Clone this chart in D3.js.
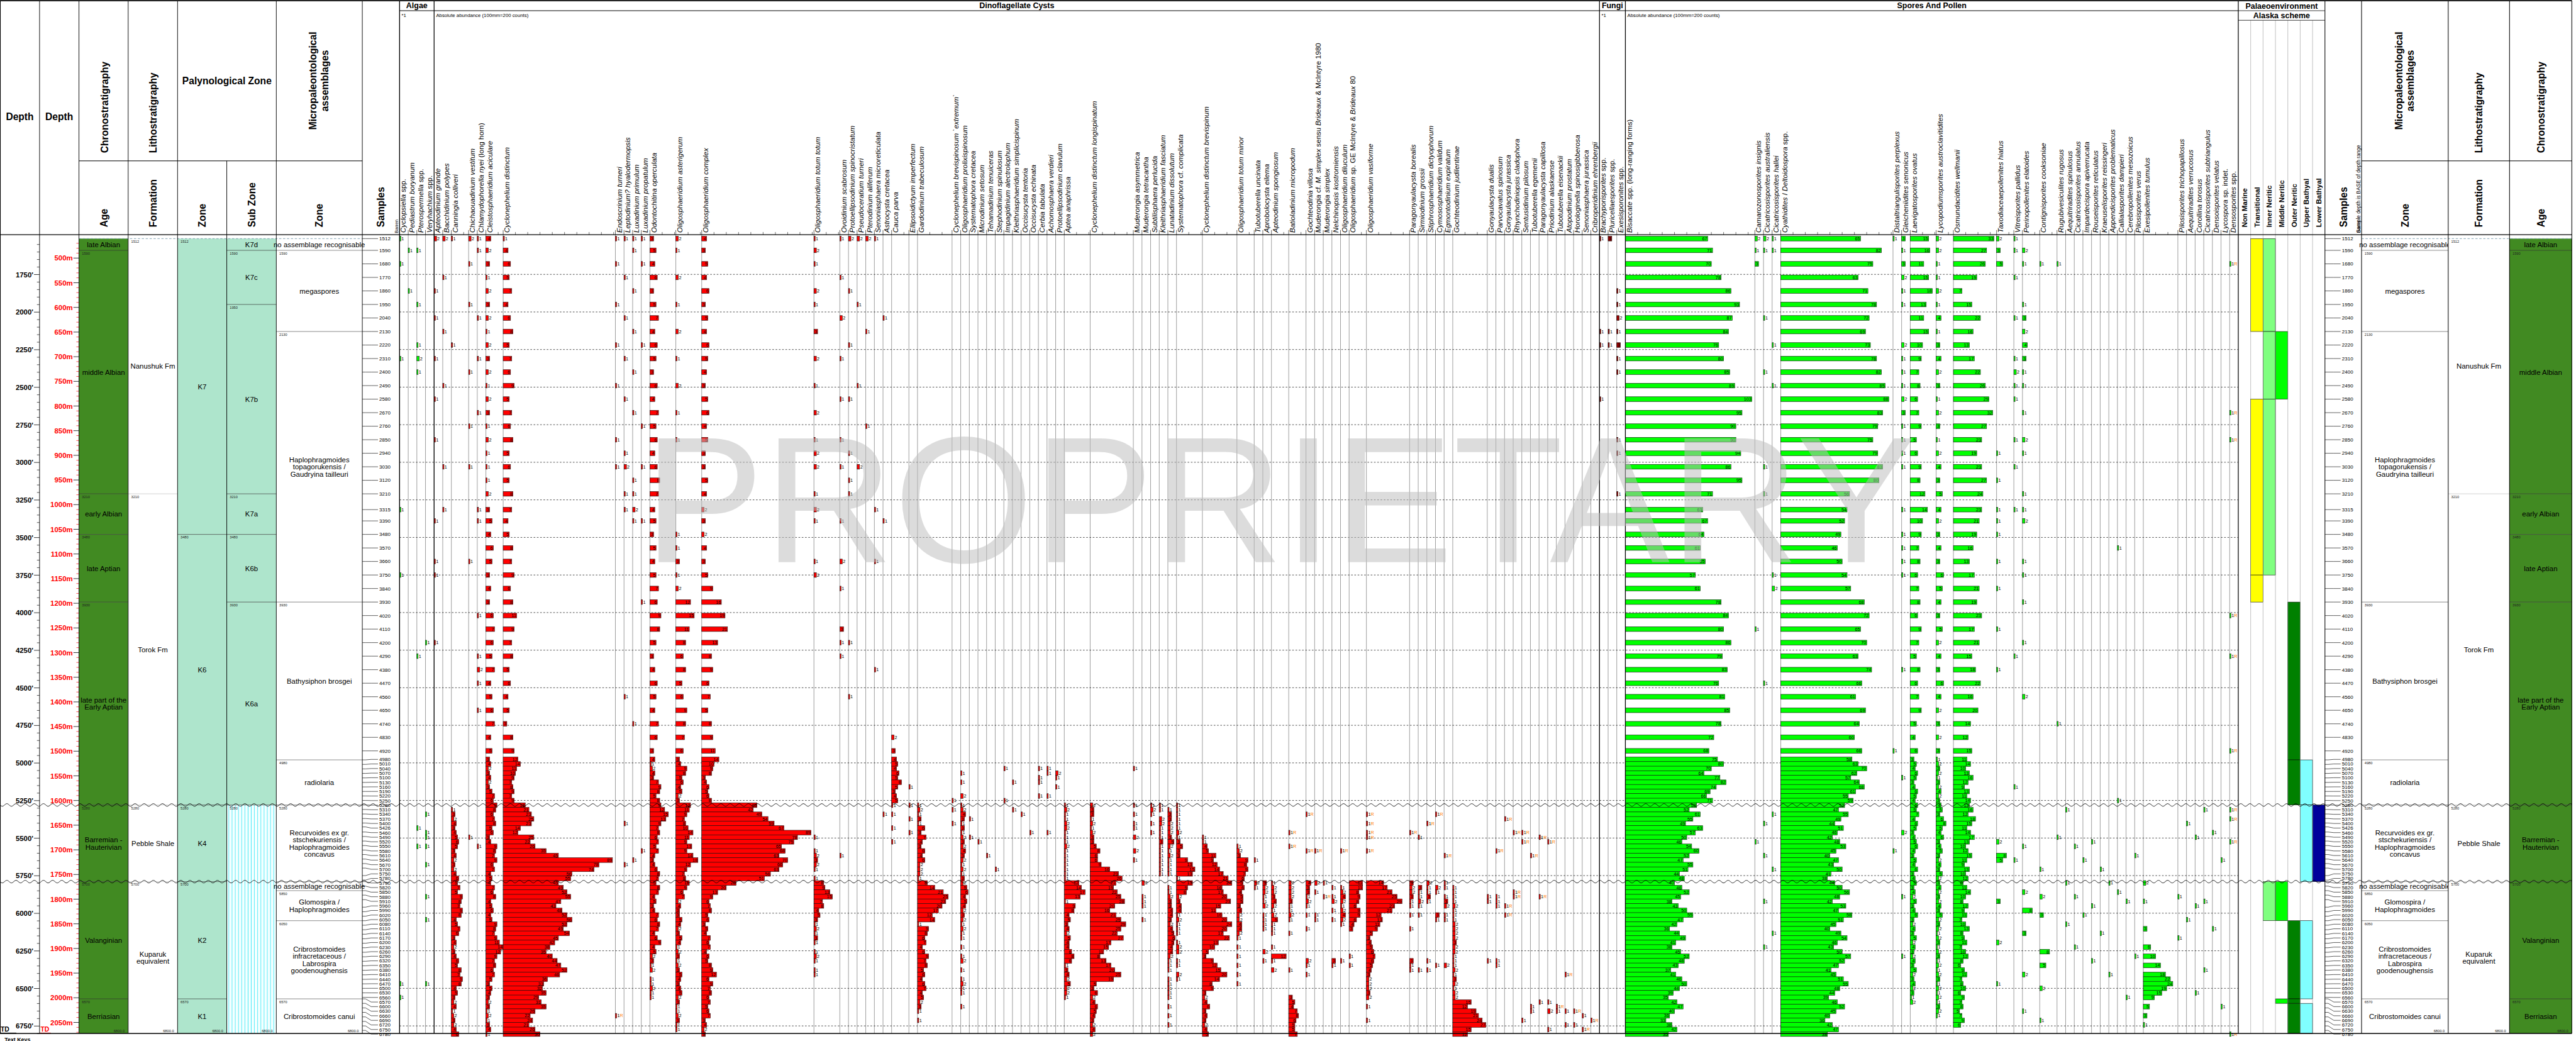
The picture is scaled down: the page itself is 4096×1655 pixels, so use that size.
<!DOCTYPE html>
<html>
<head>
<meta charset="utf-8">
<title>Palynology range chart</title>
<script src="https://cdn.jsdelivr.net/npm/d3@7/dist/d3.min.js"></script>
<style>
  html, body { margin: 0; padding: 0; background: #ffffff; overflow: hidden; }
  svg { display: block; }
  text { font-family: "Liberation Sans", Arial, Helvetica, sans-serif; }
</style>
</head>
<body>
<svg id="chart" width="4096" height="1655" viewBox="0 0 4096 1655"></svg>
<script>
// ===================== DATA =====================
// sample depths (ft); sample depth is the base of the depth range
const sampleDepths = [1512,1590,1680,1770,1860,1950,2040,2130,2220,2310,2400,2490,2580,2670,2760,2850,2940,3030,3120,3210,
  3315,3390,3480,3570,3660,3750,3840,3930,4020,4110,4200,4290,4380,4470,4560,4650,4740,4830,4920,4980,5010,5040,5070,5100,
  5130,5160,5190,5220,5250,5280,5310,5340,5370,5400,5426,5460,5490,5520,5550,5580,5610,5640,5670,5700,5750,5780,5790,5820,
  5850,5880,5910,5960,5990,6020,6050,6080,6110,6140,6170,6200,6230,6260,6290,6320,6350,6380,6410,6440,6470,6500,6530,6560,
  6570,6600,6630,6660,6690,6720,6750,6780];
const totalDepth = 6800;

// depth axis tick labels
const feetMajor = [1750,2000,2250,2500,2750,3000,3250,3500,3750,4000,4250,4500,4750,5000,5250,5500,5750,6000,6250,6500,6750];
const metreMajor = [500,550,600,650,700,750,800,850,900,950,1000,1050,1100,1150,1200,1250,1300,1350,1400,1450,1500,1550,1600,1650,1700,1750,1800,1850,1900,1950,2000,2050];

// unconformities
const unconformities = [5280, 5790];

// chronostratigraphy
const ageNames = ["late Albian","middle Albian","early Albian","late Aptian","late part of the\nEarly Aptian","Barremian -\nHauterivian","Valanginian","Berriasian"];
const ageTops = [1512,1590,3210,3480,3930,5280,5790,6570];
const ageTopLabels = ["1512","1590","3210","3480","3930","5280","5700","6570"];
// lithostratigraphy
const formationNames = ["Nanushuk Fm","Torok Fm","Pebble Shale","Kuparuk\nequivalent"];
const formationTops = [1512,3210,5280,5790];
const formationTopLabels = ["1512","3210","5280","5700"];
// palynological zones
const zoneNames = ["K7","K6","K4","K2","K1"];
const zoneTops = [1512,3480,5280,5790,6570];
const zoneTopLabels = ["1512","3480","5280","5700","6570"];
const subZoneNames = ["K7d","K7c","K7b","K7a","K6b","K6a",""];
const subZoneTops = [1512,1590,1950,3210,3480,3930,5280];
const subZoneTopLabels = ["1512","1590","1950","3210","3480","3930","5280"];
// micropalaeontological assemblages
const microNames = ["no assemblage recognisable","megaspores","Haplophragmoides\ntopagorukensis /\nGaudryina tailleuri","Bathysiphon brosgei","radiolaria",
  "Recurvoides ex gr.\nstschekuriensis /\nHaplophragmoides\nconcavus","no assemblage recognisable","Glomospira /\nHaplophragmoides",
  "Cribrostomoides\ninfracretaceous /\nLabrospira\ngoodenoughensis","Cribrostomoides canui"];
const microTops = [1512,1590,2130,3930,4980,5280,5790,5850,6050,6570];
const microTopLabels = ["1512","1590","2130","3930","4980","5280","5700","5850","6050","6570"];

// palaeoenvironment (Alaska scheme)
const envNames = ["Non Marine","Transitional","Inner Neritic","Middle Neritic","Outer Neritic","Upper Bathyal","Lower Bathyal"];
const envColors = ["#ffffff","#ffff00","#80ff80","#00ff00","#008000","#80ffff","#00009c"];
const envColumn = [1,1,1, 2,2,2,2, 3,3,3, 4,4,4,4,4, 5,5,5,5, 6];
const envTop    = [1512,2580,3750, 1512,2130,2580,5790, 2130,5790,6570, 3930,4980,6050,6570,6600, 4980,5280,6050,6600, 5280];
const envBase   = [2130,3750,3930, 2130,2580,3750,6050, 2580,6050,6600, 4980,5280,6570,6600,6800, 5280,5790,6570,6800, 5790];

// counts per taxon: "depth:count" or "startDepth>c,c,c" for consecutive samples; R = reworked
const algaeTaxa = ["Cyclopsiella spp.","Pediastrum boryanum","Pterospermella spp.","Veryhachium spp."];
const algaeCounts = [
  "1512:1 1680:1 2310:1 3315:1 3750:1 6470:1 6560:1",
  "1590:1 1860:1",
  "1590:1 1950:1 2220:1 2310:2 2400:1 4290:1 5426:1 5550:1",
  "4200:1 5340:1 5460:1 5490:1 5550:1 5670:1 5880:1 6050:1 6470:1"
];

const dinoTaxa = ["Apteodinium grande","Bacchidinium polypes","Canningia colliveri","Chichaouadinium vestitum","Chlamydophorella nyei (long horn)",
  "Cleistosphaeridium aciculare","Cyclonephelium distinctum","Endoscrinium turneri","Leptodinium? hyalodermopsis","Luxadinium primulum",
  "Luxadinium propatulum","Odontochitina operculata","Oligosphaeridium asterigerum","Oligosphaeridium complex","Oligosphaeridium totum totum",
  "Ovoidinium scabrosum","Protoellipsodinium spinocristatum","Pseudoceratium turneri","Pterodinium aliferum","Senoniasphaera microreticulata",
  "Astrocysta cretacea","Cauca parva","Ellipsoidictyum imperfectum","Gardodinium trabeculosum","Cyclonephelium brevispinosum `extremum`",
  "Oligosphaeridium prolixispinosum","Systematophora cretacea","Microdinium setosum","Tehamadinium tenuiceras","Stephodinium spinulosum",
  "Impagidinium alectrolophum","Kleithriasphaeridium simplicispinum","Occisucysta tentoria","Occisucysta echinata","Cerbia tabulata",
  "Achomosphaera verdieri","Protoellipsodinium clavulum","Aptea anaphrissa","Cyclonephelium distinctum longispinatum","Muderongia asymmetrica",
  "Muderongia tetracantha","Subtilisphaera perlucida","Kleithriasphaeridium fasciatum","Lunatadinium dissolutum","Systematophora cf. complicata",
  "Cyclonephelium distinctum brevispinum","Oligosphaeridium totum minor","Tubotuberella uncinata","Aprobolocysta eilema","Apteodinium spongiosum",
  "Batioladinium micropodum","Gochteodinia villosa","Muderongia cf. M. simplex sensu Brideaux & McIntyre 1980","Muderongia simplex","Nelchinopsis kostromiensis",
  "Oligosphaeridium diluculum","Oligosphaeridium sp. GE McIntyre & Brideaux 80","Oligosphaeridium vasiforme","Paragonyaulacysta borealis","Sirmiodinium grossii",
  "Stiphrosphaeridium dictyophorum","Cymososphaeridium validum","Egmontodinium expiratum","Gochteodinium judilentinae","Gonyaulacysta dualis",
  "Parvocavatus spinosum","Gonyaulacysta jurassica","Rhynchodiniopsis cladophora","Sentusidinium pilosum","Tubotuberella egemenii",
  "Paragonyaulacysta capillosa","Priodinium alaskaense","Tubotuberella eisenackii","Atopodinium prostatum","Horologinella spinosigibberosa",
  "Senoniasphaera jurassica","Cribroperidinium ehrenbergii"];
const dinoCounts = [
  "1512:2 1860:1 2040:1 2310:1 2580:1 2850:1 3390:1 3660:1 3750:1 4200:1",
  "1512:2 1770:1 2130:1 2490:1 3030:1 3315:1",
  "1512:1 2220:1 5310>1,3,2,4,3,4,5,6,5,3,4,2,3,2,4,6,5,7,5,9,8,7,9,8,4,5,7,6,3,4,2,3,4,6,5,8,7,9,8,4,5,3,2,4,1,2,3,2,4,6",
  "1512:2 1680:1 1950:1 2400:1 2760:1 3030:1 3660:1 5490:1",
  "1512:1 1590:1 2040:1 2310:1 2670:1 3315:1 3390:1 4020:1 4290:1 4380:2 4470:1 4650:1 5550:1",
  "1512>4,2,3,1,2,3,2,1,2,3,2,1,2,3,1,2,1 3030>1,1,2,3,5,4,6,5,3,4,3,6,7,6,5,7,4,5,6,7,4,5,3,4,2,3,4,2,3,5,7,6,9,8,6,7,8,5,6,3,4,9,8,7,9,6,7,4,5,4,7,6,8,4,5,6,4,5,9,8,7,9,11,14,12,9,7,8,6,7,5,3,5,4,3,2,3,1,2,1,3,4,1",
  "1512>1,4,6,5,7,4,6,8,5,7,6,9,5,7,6,8,5 3030>6,5,8,7,4,5,8,7,9,6,8,11,9,7,8,5,6,4,5,3,8,9,12,14,11,10,9,7,8,9,7,9,18,21,23,25,23,14,12,25,22,26,35,45,89,78,74,56,55,45,49,52,55,47,43,48,52,56,52,49,54,45,42,38,35,40,44,47,52,46,36,33,32,35,29,31,35,26,22,24,21,26,30",
  "1512:1 1680:1 1950:1 2220:1 2490:1 2850:1 3030:1 6660:1R",
  "1512:1 1770:1 2040:1 2310:1 2580:1 2940:1 3030:2 3210:1 3315:1 4560:1 5400:1 5670:1",
  "1512:1 1590:1 1860:1 2130:1 2400:1 2670:1 3120:1 3210:1 3315:2 3390:1 4740:1 5640:1",
  "1512:1 1680:1 2220:1 2760:1 3030:1 3390:1 3930:1 5580:1",
  "1512>3,5,4,6,3,5,7,4,6,5,3,6,4,7,5,6,4 3030>6,8,7,4,5,3,5,4,5,7,6,9,8,5,3,4,6,5,4,7,6,3,4,1,2,4,3,7,9,8,5,8,9,12,15,13,9,7,8,6,7,5,7,4,3,4,6,8,7,5,8,7,4,5,3,4,7,6,8,7,4,6,9,4,5,2,3,1,2,0,1,1,2,1,1",
  "1512>2,1,0,2,0,1,0,2,0,1,0,2,0,1,0,1,0 3480>1,1,3,1,2,12,15,11,8,6,8,5,6,9,8,7,6,3,4,9,8,5,6,4,5,2,3,12,11,9,7,8,10,14,11,9,13,9,14,18,12,9,7,8,11,9,6,7,2,4,3,3,5,4,2,3,5,4,1,2,3,1,2,3,5,4,3,4,5,2,3,1,1,2,3,1,1",
  "1512>4,3,5,4,6,3,5,4,6,5,4,3,5,6,4,5,3 3030>3,5,4,2,3,2,4,3,5,9,16,19,21,13,8,9,6,7,5,8,9,11,14,10,9,8,3,4,6,5,6,8,45,42,49,54,59,67,89,78,75,65,68,63,70,66,63,56,51,28,20,13,9,6,7,8,5,6,3,5,4,7,6,7,4,6,5,8,9,12,6,9,7,8,6,7,5,6,7,3,4,2,3",
  "1512>1,2,1,0,2,1,0,3,0,2,0,1,0,2,0,1,2 3030:2 3210:1 3315:2 3390:1 3660:1 3750:2 5490:1 5580>1,2,3,2,1,0,1,8,9,13,15,7,8,4,5,3,1,2,1,3,1,0,1,2,1,0,1,1",
  "1512:1 1770:1 2040:2 2310:1 2580:1 2850:1 3030:1 3390:1 3660:2 3840:1 4110:3 4200:1 4290:1 5610:1",
  "1512:2 1860:1 2220:1 2580:1 2940:1 3120:1 3210:1 4200:1 4560:1",
  "1512:2 1950:1 2490:1 3030:2",
  "1512:2 2130:1 2760:1",
  "1512:1 3315:1 3660:1 4380:1",
  "2040:1 3390:1 5340:1",
  "4830:2 4920:3 4980:4 5010>5,4,6,5,8,5,3,4,5,1,0,1,0,0,1,0,0,1",
  "5160:1 5280:1 5370:1 5460:1",
  "5280>1,2,1,3,1,6,3,7,4,3,6,4,6,2,2,2,1,8,14,21,25,23,20,17,12,14,1,9,8,6,7,4,6,9,7,8,5,6,4,6,7,4,5,2,3,1,0,1",
  "5250:1 5310:1 5400:1",
  "5070:1 5130:1 5220:2 5280>1,2,4,3,1,3,1,2,3,2,4,3,2,1,2,1,3,2,5,6,4,5,4,2,3,2,1,2,1,1,0,1,0,1,2,0,1,0,1,2,1,1,0,0,1",
  "5370:1 5490:1",
  "5520:1",
  "5610:1",
  "5700:1",
  "5040:1 5250:1",
  "5130:1 5310:1",
  "5340:1",
  "5460:1",
  "5040:1 5100:1 5130:1 5220:1",
  "5040:1 5070:1 5220:1 5460:1",
  "5070:2 5100:1 5160:1",
  "5280>1,2,1,1,2,2,1,1,1,2,1,1,1,1,1,1,1,12,14,17,13,1,9,8,4,5,3,4,2,5,4,4,6,8,6,1,3,4,2,5,2,2,1",
  "5280>2,3,3,1,2,1,2,3,3,5,8,6,6,9,16,23,26,21,19,22,25,28,20,16,21,25,29,25,22,27,17,15,11,8,13,17,20,25,19,5,3,6,2,4,6,5,4,3,2,4,2",
  "5040:1 5280:1 5340:1 5400:1 5426:1 5490:2 5580:2 5640:1",
  "5790:2 5880:1 5910:1 5960:1 6050:1",
  "5280:1 5310:2 5340:1 5400:1 5460:1",
  "5280>1,1,0,2,2,1,1,1,3,1,1,1,1,1,1,1",
  "5310>1,3,3,2,2,2,3,5,2,1,2,1,1,1,1,0,0,1,1,2,3,3,4,4,3,2,4,5,6,5,4,4,2,1,1,1,0,1,1,1,1,1,0,1,0,1,0,1",
  "5280>1,1,1,1,1,1,2,1,3,5,3,3,9,13,15,13,1,13,9,8,2,3,4,4,1,2,1,1,1,0,1,2,2,0,1,1,0,2,1",
  "5490>1,1,4,5,11,9,12,14,17,21,24,16,17,20,23,15,11,16,20,24,20,17,22,13,10,5,3,9,12,15,20,14,8,9,3,2,4,6,3,4,3,2,4,5",
  "5550>1,2,3,9,8,9,7,6,5,6,4,5,5,3,4,2,2,4,4,2,1,0,1,0,1,0,1,0,1,0,1",
  "5640:1 5790:2 5820:1",
  "5790:3 5820:2 5850:2 5880:1 5910:1 5960:2 6020:1 6050:1 6080:1 6110:1 6260:2 6320:1",
  "5790>1,2,2,3,4,2,1,2,5,1,1,1,0,0,1,0,12,1,0,2",
  "5460:1R 5550:1R 5790>2,2,2,2,3,1,1,2,1,0,0,1 6380:1 6560>3,5,4,7,8,6,5,5,7",
  "5340:1R 5580:1R 5790:4 5820:3 5850:3 5880:1 5910:2 5960:1 6020:1 6110:1 6320:2 6350:1 6410:1",
  "5580:1R 5790:2 5850:1 6020:1 6050:1",
  "5790:1 5880:1R",
  "5820:1 5880:1 5910:2 5990:1 6050:1 6320:3 6350:1",
  "5580:1R 5820:1 5850:2 5880:4 5910:2 5960:1 5990:2 6020:4 6050:2 6080:1 6320:1",
  "5790>11,11,8,9,8,6,9,9,6,4,3,0,0,0,0,0,1,0,1",
  "5340:1R 5400:1R 5460:1R 5490:1R 5580:1R 5790>14,17,21,25,29,23,21,12,13,11,9,5,3,4,5,6,7,6,5,4,3,2,2,2,3,2,0,1,0,0,1",
  "5460:1R 5790:3 5820:2 5850:2 5880:3 5910:1 5960:1 6020:1 6110:1 6320:3 6350:1 6380:1",
  "5490:1 5820:3 5850:1 5880:1 5910:2 5960:1 6020:1 6380:1",
  "5400:1R 5790:2 5820:1 5850:1 5880:3 5910:1 6320:1 6380:1",
  "5340:1R 5820:2 5850:1 6020:3 6050:1 6350:1",
  "5610:1R 5790:1 5820:1 5880:1 5910:3 5960:2 6020:1 6050:1 6350:2",
  "5820>1,1,1,1,2,1,1,1,2,2,2,2,3,2,2,1,1,1,2,1,3,2,1,2,2,15,12,19,21,24,27,15,12",
  "5880:1 5910:1 6320:1",
  "5580:1R 5880:1 5910:1 5960:1 6320:1 6350:1",
  "5370:1R 5960:1R 6020:1R",
  "5460:1R 5850:1R 5880:1R",
  "5460:1R 5520:1R 6690:1",
  "5610:1R 6600:1 6630:1",
  "5490:1R 5880:1R 6570:1",
  "5520:1R 6570:1 6630:2 6750:1",
  "6600:1R 6630:1",
  "6410:1R 6630:1 6720:1",
  "6630:1R 6720:1",
  "6660:1 6750:1R",
  "6690:1R"
];

const fungiTaxa = ["Brachyporisporites spp.","Pluricellaesporites spp.","Exesisporonites spp."];
const fungiCounts = [
  "1512:1 2130:1 2220:1 2580:1",
  "1512:3 2130:1 2220:1",
  "1860:1 1950:1 2040:2 2130:1 2220:3 2310:1 2400:1 2850:1 2940:1 3210:1"
];

const sporeTaxa = ["Bisaccate spp. (long-ranging forms)","Camarozonosporites insignis","Cicatricosisporites australiensis","Cicatricosisporites hallei",
  "Cyathidites / Deltoidospora spp.","Distaltriangulisporites perplexus","Gleicheniidites senonicus","Laevigatosporites ovatus",
  "Lycopodiumsporites austroclavitidites","Osmundacidites wellmanii","Taxodiaceaepollenites hiatus","Vitreisporites pallidus",
  "Perinopollenites elatoides","Contignisporites cooksoniae","Rugubivesiculites rugosus","Aequitriradites spinulosus",
  "Cicatricosisporites annulatus","Impardecispora apiverrucata","Rouseisporites reticulatus","Kraeuselisporites reissingeri",
  "Appendicisporites problematicus","Callialasporites dampieri","Cerebropollenites mesozoicus","Pilosisporites verus",
  "Exesipollenites tumulus","Pilosisporites trichopapillosus","Aequitriradites verrucosus","Corollina torosus",
  "Cicatricosisporites subtriangulus","Densoisporites velatus","Lycospora sp. indet.","Densosporites spp."];
const sporeCounts = [
  "1512>67,71,70,78,86,93,87,84,76,80,85,89,103,95,90,90,94,86,95,71,63,67,64,61,65,57,61 3930>78,84,80,86,79,83,76,81,85,78,72,68,75,80,70,64,77,82,74,69,66,71,58,52,61,55,49,63,57,50,46,54,60,52,47,55,51,44,48,40,46,52,45,38,43,50,55,47,42,36,44,49,41,38,45,52,48,43,37,41,46,50,44,39,35,42,47,40,36,33,38,42,35",
  "1512:2 1590:1 1680:3 4110:1 5520:1",
  "1512:2 1590:1 2040:1 2400:1 3030:1 3210:1 4470:1 5400:1 5610:1 5910:1 6230:1",
  "1512:1 1590:1 2220:1 2490:1 3750:1 3840:2 5340:1 5700:1 6140:1",
  "1512>65,82,75,63,71,78,72,69,73,78,82,85,88,83,79,75,79,83,80,56,54,52,49,46,50,54,57 3930>68,72,65,70,63,74,66,61,69,64,60,66,58,63,70,62,57,64,68,61,55,59,52,47,55,49,44,51,46,42,48,53,45,40,47,43,50,41,38,44,50,56,48,42,53,47,58,51,45,40,49,54,46,43,50,57,52,47,41,45,51,55,48,44,39,46,52,45,40,36,42,47,38",
  "1512:1 4920:1 5580:1",
  "1512>3,1,3,2,1,1,0,0,2,1,1,1,2,3,1,1,1,1,0,0,1,0,1,1,1,1 4380:1 5100:1 5460:2 5880:1 6290:1",
  "1512>15,16,11,15,18,13,11,15,10,9,7,8,6,7,9,5,6,9,8,12,14,10,9,7,8,6,7,8,6,9,7,5,8,6,7,9,5,4,6,3,5,4,6,5,3,4,6,5,4,6,5,7,4,6,5,3,4,5,6,4,3,5,4,6,3,4,5,3,4,2,5,3,4,6,3,2,4,3,5,2,4,3,2,4,3,5,2,3,4,2,3,1,2",
  "1512>2,2,1,1,2,1,4,1,3,4,2,3,1,2,3,1,2,4,3,5,4,2,3,4,3,6,5,4,3,5,2,4,3,6,4,2,3,2,3,1,2,3,2,1,3,2,4,2,3,4,5,3,6,8,5,4,6,3,4,5,3,2,4,3,5,2,3,4,2,3,2,4,3,5,2,3,2,1,2,3,1,2,3,1,2,1,2,3,1,2,1,2,1,3,2,1",
  "1512>33,27,26,19,7,15,22,16,13,17,22,26,29,32,27,23,19,23,27,24,23,21,19,16,13,17,21,19,23,17,21,15,18,22,16,20,14,12,15,11,14,10,13,16,12,9,13,11,14,13,16,12,18,15,11,14,17,13,10,12,15,11,9,13,10,12,8,11,14,10,8,12,9,11,7,10,13,8,9,11,7,10,12,8,6,9,11,7,8,10,6,9,7,8,5,7,9,6",
  "1512:2 1590:3 1680:5 2940:1 3120:1 3315:1 3390:1 3480:1 3660:1 3840:1 4110:1 4380:1 5520:2 5610:8 5640:5 5910:3 6200:2 6470:1",
  "1512:1 1590:1 1770:1 2040:1 2310:1 2400:2 2490:1 2580:1 2850:1 3030:1 3315:1 4290:1 5160:1 5640:1",
  "1590:2 1680:1 1950:1 2040:3 2130:2 2220:4 2310:3 2400:1 2490:1 2670:1 2850:2 2940:1 3210:1 3315:1 3390:2 3660:1 3750:1 3930:1 4200:1 4560:2 5550:1 5850:2 5990:8 6140:3 6410:2 6630:1",
  "1680:1 5700:1 5880:2 6020:3 6260:8 6350:5 6500:2 6690:1",
  "1680:1 4740:1 5490:1",
  "5310:1 5790:1 6080:1",
  "5550:1 5880:1 6230:1",
  "5640:1 6020:1",
  "5520:1 5960:1 6320:1",
  "5700:1 6140:1",
  "5790:1 6410:1",
  "3570:1 5250:1 5850:1",
  "5910:1 6560:1",
  "5610:1 6290:1",
  "5790:2 5910:1 6110:3 6230:6 6290:10 6350:14 6410:18 6440:22 6470:24 6500:19 6530:15 6560:9 6600:5 6660:3 6720:1",
  "5880:1 6170:1",
  "5400:1 6050:1",
  "5490:1 5960:1 6530:1",
  "5310:1 5910:1 6380:1",
  "5460:1 6110:1",
  "5640:1 6600:1",
  "1680:1R 2670:1R 2850:1R 4020:1R 4290:1R 4920:1R 5310:1R 5370:1R 5520:1R 6780:1R"
];

// ===================== LAYOUT CONSTANTS (reference px) =====================
const S = 4096 / 7878;
const HEAD_TOP = 2, HEAD_GROUP = 32.5, HEAD_MID = 492, HEAD_BOT = 717.5, DATA_BOT = 3160;
const leftEdges = [0, 121, 241.5, 392, 543, 693.5, 845, 1108, 1222];
const TAXA_X0 = 1222;
const UNIT = 26.4;          // minimum column width
const PX_PER_COUNT = 3.755; // 100mm = 200 counts
const BAR_H = 14.5;
const FONT = "'Liberation Sans', Arial, Helvetica, sans-serif";

const svg = d3.select("#chart");
const root = svg.append("g").attr("transform", `scale(${S})`);
const defs = svg.append("defs");
defs.append("pattern").attr("id", "cyanHatch").attr("patternUnits", "userSpaceOnUse")
  .attr("width", 9.8).attr("height", 20)
  .call(p => {
    p.append("rect").attr("width", 9.8).attr("height", 20).attr("fill", "#f4ffff");
    p.append("line").attr("x1", 4).attr("x2", 4).attr("y1", 0).attr("y2", 20).attr("stroke", "#29e6f5").attr("stroke-width", 1.6);
  });

// ===================== SCALES =====================
const y = d3.scaleLinear().domain([1750, 6750]).range([839, 3137]);
const FT_PER_M = 3.28084;
const yM = d3.scaleLinear().domain([1750 / FT_PER_M, 6750 / FT_PER_M]).range([839, 3137]);
const xCount = d3.scaleLinear().domain([0, 200]).range([0, 200 * PX_PER_COUNT]);

// row positions: sample labels are pushed apart where samples are dense
const trueY = sampleDepths.map(d => y(d));
const rowY = trueY.slice();
const GAP = 14;
for (let i = 1; i < rowY.length; i++) rowY[i] = Math.max(rowY[i], rowY[i - 1] + GAP);
const ROW_LIMIT = 3162;
if (rowY[rowY.length - 1] > ROW_LIMIT) {
  rowY[rowY.length - 1] = ROW_LIMIT;
  for (let i = rowY.length - 2; i >= 0; i--) rowY[i] = Math.min(rowY[i], rowY[i + 1] - GAP);
}

// ===================== COUNT PARSING & COLUMN LAYOUT =====================
function parseCounts(str) {
  const out = [];
  str.trim().split(/\s+/).filter(Boolean).forEach(tok => {
    if (tok.includes(">")) {
      const [d, list] = tok.split(">");
      let i = sampleDepths.indexOf(+d);
      list.split(",").forEach(v => { if (v !== "0" && v !== "" && i < sampleDepths.length) out.push({ i, v }); i++; });
    } else {
      const [d, v] = tok.split(":");
      out.push({ i: sampleDepths.indexOf(+d), v });
    }
  });
  return out.filter(o => o.i >= 0).map(o => ({ i: o.i, n: parseInt(o.v, 10), r: /R$/.test(o.v) }));
}

const groups = [
  { name: "Algae", taxa: algaeTaxa, counts: algaeCounts, fill: "#00ff00", note: "*1" },
  { name: "Dinoflagellate Cysts", taxa: dinoTaxa, counts: dinoCounts, fill: "#ff0000", note: "Absolute abundance  (100mm=200 counts)" },
  { name: "Fungi", taxa: fungiTaxa, counts: fungiCounts, fill: "#9a0000", note: "*1" },
  { name: "Spores And Pollen", taxa: sporeTaxa, counts: sporeCounts, fill: "#00ff00", note: "Absolute abundance  (100mm=200 counts)" }
];
let cursor = TAXA_X0;
groups.forEach(gr => {
  gr.x0 = cursor;
  gr.cols = gr.taxa.map((name, k) => {
    const occ = parseCounts(gr.counts[k]);
    const mx = d3.max(occ, o => o.n) || 1;
    const units = Math.max(1, Math.ceil(xCount(mx) / UNIT - 0.05));
    const col = { name, occ, x: cursor, w: units * UNIT };
    cursor += col.w;
    return col;
  });
  gr.x1 = cursor;
});
const TAXA_X1 = cursor;
const ENV_X0 = TAXA_X1, ENV_W = 37.86, ENV_X1 = ENV_X0 + 7 * ENV_W;
const rightEdges = [ENV_X1, ENV_X1 + 112, ENV_X1 + 377, ENV_X1 + 564.5, ENV_X1 + 755];
const RIGHT = rightEdges[4];

// ===================== HELPERS =====================
function line(x1, y1, x2, y2, stroke, w, dash) {
  const l = root.append("line").attr("x1", x1).attr("y1", y1).attr("x2", x2).attr("y2", y2)
    .attr("stroke", stroke || "#000").attr("stroke-width", w || 1.5);
  if (dash) l.attr("stroke-dasharray", dash);
  return l;
}
function vtext(parent, x, yy, str, size, weight, anchor, style) {
  return parent.append("text").attr("transform", `translate(${x},${yy}) rotate(-90)`)
    .attr("font-size", size).attr("font-weight", weight || "normal").attr("font-style", style || "normal")
    .attr("text-anchor", anchor || "start").text(str);
}
function multiText(parent, cx, cy, str, size, lh) {
  const lines = str.split("\n");
  const t = parent.append("text").attr("font-size", size).attr("text-anchor", "middle");
  lines.forEach((s, k) => {
    t.append("tspan").attr("x", cx).attr("y", cy + (k - (lines.length - 1) / 2) * lh + size * 0.36).text(s);
  });
  return t;
}

// ===================== ZONE COLUMNS =====================
const zoneLayer = root.append("g");
function zoneColumn(x0, x1, tops, names, topLabels, fills, opts) {
  opts = opts || {};
  tops.forEach((top, k) => {
    const base = k + 1 < tops.length ? tops[k + 1] : totalDepth;
    const y0 = y(top), y1 = y(base);
    zoneLayer.append("rect").attr("x", x0).attr("y", y0).attr("width", x1 - x0).attr("height", y1 - y0)
      .attr("fill", fills(k)).attr("stroke", "none");
    if (k > 0) zoneLayer.append("line").attr("x1", x0).attr("x2", x1).attr("y1", y0).attr("y2", y0)
      .attr("stroke", opts.lineColor || "#333").attr("stroke-width", 1.3);
    if (y1 - y0 > 60 || opts.allLabels) {
      zoneLayer.append("text").attr("x", x0 + 9).attr("y", y0 + 13).attr("font-size", 11).attr("fill", "#222").text(topLabels[k]);
    }
    if (names[k]) multiText(zoneLayer, (x0 + x1) / 2, (y0 + y1) / 2, names[k], opts.size || 22, 22);
  });
  zoneLayer.append("text").attr("x", x1 - 11).attr("y", DATA_BOT - 4).attr("font-size", 11)
    .attr("text-anchor", "end").attr("fill", "#222").text(totalDepth.toFixed(1));
}
const ageFill = () => "#418a22";
const mint = () => "#aee5cc";
const white = () => "#ffffff";
// left side
zoneColumn(leftEdges[2], leftEdges[3], ageTops, ageNames, ageTopLabels, ageFill);
zoneColumn(leftEdges[3], leftEdges[4], formationTops, formationNames, formationTopLabels, white, { lineColor: "#bbb" });
zoneColumn(leftEdges[4], leftEdges[5], zoneTops, zoneNames, zoneTopLabels, mint);
zoneColumn(leftEdges[5], leftEdges[6], subZoneTops, subZoneNames, subZoneTopLabels, k => k === subZoneTops.length - 1 ? "url(#cyanHatch)" : "#aee5cc", { allLabels: false });
zoneColumn(leftEdges[6], leftEdges[7], microTops, microNames, microTopLabels, white, { lineColor: "#555" });
// right side
zoneColumn(rightEdges[1], rightEdges[2], microTops, microNames, microTopLabels, white, { lineColor: "#555" });
zoneColumn(rightEdges[2], rightEdges[3], formationTops, formationNames, formationTopLabels, white, { lineColor: "#bbb" });
zoneColumn(rightEdges[3], rightEdges[4], ageTops, ageNames, ageTopLabels, ageFill);

// top of section: dashed marker line
[[leftEdges[2], leftEdges[7]], [rightEdges[1], rightEdges[4]]].forEach(([a, b]) =>
  line(a, y(sampleDepths[0]), b, y(sampleDepths[0]), "#6f93a6", 1.6, "7,5"));

// ===================== PALAEOENVIRONMENT =====================
const envLayer = root.append("g");
envColumn.forEach((c, k) => {
  envLayer.append("rect").attr("x", ENV_X0 + c * ENV_W).attr("y", y(envTop[k]))
    .attr("width", ENV_W).attr("height", y(envBase[k]) - y(envTop[k]))
    .attr("fill", envColors[c]).attr("stroke", "#000").attr("stroke-width", 1.1);
});
for (let c = 1; c < 7; c++) line(ENV_X0 + c * ENV_W, 62, ENV_X0 + c * ENV_W, DATA_BOT, "#999", 1.2);

// ===================== TAXA GRID =====================
const gridLayer = root.append("g");
groups.forEach(gr => {
  gr.cols.forEach(c => {
    gridLayer.append("line").attr("x1", c.x).attr("x2", c.x).attr("y1", HEAD_BOT).attr("y2", DATA_BOT)
      .attr("stroke", "#555").attr("stroke-width", 1.1);
    gridLayer.append("line").attr("x1", c.x).attr("x2", c.x).attr("y1", HEAD_BOT - 14).attr("y2", HEAD_BOT)
      .attr("stroke", "#000").attr("stroke-width", 1.2);
    for (let k = 10; xCount(k) < c.w - 2; k += 10) {
      gridLayer.append("line").attr("x1", c.x + xCount(k)).attr("x2", c.x + xCount(k)).attr("y1", HEAD_BOT - 8).attr("y2", HEAD_BOT)
        .attr("stroke", "#000").attr("stroke-width", 1.1);
    }
  });
});
// dotted depth guide lines across the taxa
feetMajor.forEach(d => gridLayer.append("line").attr("x1", TAXA_X0).attr("x2", TAXA_X1).attr("y1", y(d)).attr("y2", y(d))
  .attr("stroke", "#000").attr("stroke-width", 1.3).attr("stroke-dasharray", "5,5"));

// ===================== SAMPLE COLUMNS =====================
const sampleLayer = root.append("g");
function sampleColumn(x0) {
  sampleDepths.forEach((d, i) => {
    const ty = trueY[i], ry = rowY[i];
    sampleLayer.append("path")
      .attr("d", `M${x0},${ty} L${x0 + 10},${ty} L${x0 + 27},${ry} L${x0 + 48},${ry}`)
      .attr("fill", "none").attr("stroke", "#000").attr("stroke-width", 1.2);
    sampleLayer.append("text").attr("x", x0 + 52).attr("y", ry + 5.5).attr("font-size", 15.5).text(d);
  });
}
sampleColumn(leftEdges[7]);
sampleColumn(rightEdges[0]);

// ===================== BARS =====================
const barLayer = root.append("g");
groups.forEach(gr => {
  gr.cols.forEach(c => {
    c.occ.forEach(o => {
      const w = xCount(o.n), yc = rowY[o.i];
      barLayer.append("rect").attr("x", c.x).attr("y", yc - BAR_H / 2).attr("width", w).attr("height", BAR_H)
        .attr("fill", gr.fill).attr("stroke", "#111").attr("stroke-width", 1.2);
      const label = String(o.n);
      const inside = w >= label.length * 7.6 + 3;
      const t = barLayer.append("text").attr("x", inside ? c.x + w - 1.5 : c.x + w + 1.8).attr("y", yc + 5)
        .attr("font-size", 14).attr("text-anchor", inside ? "end" : "start").attr("fill", "#000").text(label);
      if (o.r) t.append("tspan").attr("fill", "#ff8000").text("R");
    });
  });
});

// ===================== UNCONFORMITIES =====================
unconformities.forEach(d => {
  const yy = y(d);
  const pts = d3.range(0, RIGHT + 1, 2).map(x => [x, yy + 4 * Math.sin(2 * Math.PI * x / 28)]);
  root.append("path").attr("d", d3.line()(pts)).attr("fill", "none").attr("stroke", "#000").attr("stroke-width", 1.6);
});

// ===================== DEPTH AXES =====================
const axisLayer = root.append("g");
const ftAxis = d3.axisLeft(y).tickValues(feetMajor).tickFormat(d => d + "'").tickSize(17).tickPadding(2);
axisLayer.append("g").attr("transform", `translate(${leftEdges[1]},0)`).call(ftAxis)
  .call(a => a.select(".domain").remove())
  .call(a => a.selectAll("text").attr("font-size", 22).attr("font-weight", "bold").attr("font-family", FONT).attr("dy", "0.36em"))
  .call(a => a.selectAll("line").attr("stroke-width", 1.5));
const ftMinor = d3.axisLeft(y).tickValues(d3.range(1550, 6801, 50).filter(v => v % 250 !== 0)).tickFormat("").tickSize(8);
axisLayer.append("g").attr("transform", `translate(${leftEdges[1]},0)`).call(ftMinor)
  .call(a => a.select(".domain").remove()).call(a => a.selectAll("line").attr("stroke-width", 1.3));

const mAxis = d3.axisLeft(yM).tickValues(metreMajor).tickFormat(d => d + "m").tickSize(17).tickPadding(2);
axisLayer.append("g").attr("transform", `translate(${leftEdges[2]},0)`).call(mAxis)
  .call(a => a.select(".domain").remove())
  .call(a => a.selectAll("text").attr("font-size", 22).attr("font-weight", "bold").attr("font-family", FONT).attr("fill", "#ff0000").attr("dy", "0.36em"))
  .call(a => a.selectAll("line").attr("stroke", "#000").attr("stroke-width", 1.5));
const mMinor = d3.axisLeft(yM).tickValues(d3.range(470, 2071, 10).filter(v => v % 50 !== 0)).tickFormat("").tickSize(8);
axisLayer.append("g").attr("transform", `translate(${leftEdges[2]},0)`).call(mMinor)
  .call(a => a.select(".domain").remove()).call(a => a.selectAll("line").attr("stroke", "#ff0000").attr("stroke-width", 1.3));

// total depth markers
axisLayer.append("text").attr("x", 2).attr("y", DATA_BOT - 6).attr("font-size", 20).attr("font-weight", "bold").text("TD");
line(0, DATA_BOT - 1, 50, DATA_BOT - 1, "#000", 2.5);
axisLayer.append("text").attr("x", leftEdges[1] + 3).attr("y", DATA_BOT - 6).attr("font-size", 20).attr("font-weight", "bold").attr("fill", "#ff0000").text("TD");
line(leftEdges[1], DATA_BOT - 1, leftEdges[1] + 34, DATA_BOT - 1, "#ff0000", 2.5);
root.append("text").attr("x", 14).attr("y", 3186).attr("font-size", 17).attr("font-weight", "bold").text("Text Keys");

// ===================== HEADER =====================
const head = root.append("g");
head.append("text").attr("x", 60.5).attr("y", 368).attr("text-anchor", "middle").attr("font-size", 30).attr("font-weight", "bold").text("Depth");
head.append("text").attr("x", 181).attr("y", 368).attr("text-anchor", "middle").attr("font-size", 30).attr("font-weight", "bold").text("Depth");
vtext(head, 330, 468, "Chronostratigraphy", 30, "bold");
vtext(head, 478, 468, "Lithostratigraphy", 30, "bold");
head.append("text").attr("x", 694).attr("y", 258).attr("text-anchor", "middle").attr("font-size", 30).attr("font-weight", "bold").text("Palynological Zone");
vtext(head, 968, 247, "Micropaleontological", 30, "bold", "middle");
vtext(head, 1004, 247, "assemblages", 30, "bold", "middle");
[["Age", 328], ["Formation", 479], ["Zone", 629], ["Sub Zone", 780], ["Zone", 987.5], ["Samples", 1176]].forEach(([s, x]) =>
  vtext(head, x, 694.6, s, 30, "bold"));
vtext(head, 1217, 713, "Barren", 14, "normal");

// right-hand header
vtext(head, rightEdges[0] + 67, 694.6, "Samples", 30, "bold");
vtext(head, rightEdges[0] + 108, 712, "Sample depth is BASE of depth range", 16, "normal");
vtext(head, rightEdges[0] + 108, 712, "Barren", 14, "normal");
const rMid1 = (rightEdges[1] + rightEdges[2]) / 2, rMid2 = (rightEdges[2] + rightEdges[3]) / 2, rMid3 = (rightEdges[3] + rightEdges[4]) / 2;
vtext(head, rMid1 - 8, 247, "Micropaleontological", 30, "bold", "middle");
vtext(head, rMid1 + 28, 247, "assemblages", 30, "bold", "middle");
vtext(head, rMid2 + 11, 468, "Lithostratigraphy", 30, "bold");
vtext(head, rMid3 + 11, 468, "Chronostratigraphy", 30, "bold");
[["Zone", rMid1 + 11], ["Formation", rMid2 + 11], ["Age", rMid3 + 11]].forEach(([s, x]) => vtext(head, x, 694.6, s, 30, "bold"));

// palaeoenvironment header
head.append("text").attr("x", (ENV_X0 + ENV_X1) / 2).attr("y", 26).attr("text-anchor", "middle").attr("font-size", 24).attr("font-weight", "bold").text("Palaeoenvironment");
head.append("text").attr("x", (ENV_X0 + ENV_X1) / 2).attr("y", 56).attr("text-anchor", "middle").attr("font-size", 24).attr("font-weight", "bold").text("Alaska scheme");
envNames.forEach((s, c) => vtext(head, ENV_X0 + c * ENV_W + ENV_W / 2 + 8, 695, s, 22, "bold"));
line(ENV_X0, 32.7, ENV_X1, 32.7, "#000", 1.5);
line(ENV_X0, 62, ENV_X1, 62, "#000", 1.5);

// taxa group headers and column names
const uprightWords = new Set(["spp.", "sp.", "cf.", "sensu", "&", "McIntyre", "1980", "80", "GE", "(long", "horn)", "(long-ranging", "forms)", "indet.", "/"]);
groups.forEach(gr => {
  head.append("text").attr("x", (gr.x0 + gr.x1) / 2).attr("y", 25).attr("text-anchor", "middle")
    .attr("font-size", 24).attr("font-weight", "bold").text(gr.name);
  head.append("text").attr("x", gr.x0 + 6).attr("y", 52).attr("font-size", 15).text(gr.note);
  gr.cols.forEach(c => {
    const t = head.append("text").attr("transform", `translate(${c.x + 19.5},${HEAD_BOT - 6}) rotate(-90)`).attr("font-size", 22);
    c.name.split(" ").forEach((w, k) => {
      t.append("tspan").attr("font-style", uprightWords.has(w) ? "normal" : "italic").text((k ? " " : "") + w);
    });
  });
});
line(TAXA_X0, HEAD_GROUP, TAXA_X1, HEAD_GROUP, "#000", 2);

// ===================== FRAME LINES =====================
const frame = root.append("g");
function vline(x, y1, y2, w) { frame.append("line").attr("x1", x).attr("x2", x).attr("y1", y1).attr("y2", y2).attr("stroke", "#000").attr("stroke-width", w); }
function hline(x1, x2, yy, w) { frame.append("line").attr("x1", x1).attr("x2", x2).attr("y1", yy).attr("y2", yy).attr("stroke", "#000").attr("stroke-width", w); }
hline(0, RIGHT, HEAD_TOP, 3.5);
hline(0, RIGHT, HEAD_BOT, 2.5);
hline(0, RIGHT, DATA_BOT, 2.5);
hline(leftEdges[2], leftEdges[7], HEAD_MID, 2);
hline(rightEdges[1], rightEdges[4], HEAD_MID, 2);
vline(1, HEAD_TOP, DATA_BOT, 2);
leftEdges.slice(1).forEach((x, k) => vline(x, k === 4 ? HEAD_MID : HEAD_TOP, DATA_BOT, k === 7 ? 2.6 : 1.8));
groups.forEach(gr => vline(gr.x1, HEAD_TOP, DATA_BOT, 2.4));
rightEdges.forEach(x => vline(x, HEAD_TOP, DATA_BOT, 2));

// ===================== WATERMARK =====================
root.append("text").attr("x", 1969).attr("y", 1719).attr("font-size", 550).attr("font-family", FONT)
  .attr("fill", "rgba(189,189,189,0.53)").text("PROPRIETARY");
</script>
</body>
</html>
